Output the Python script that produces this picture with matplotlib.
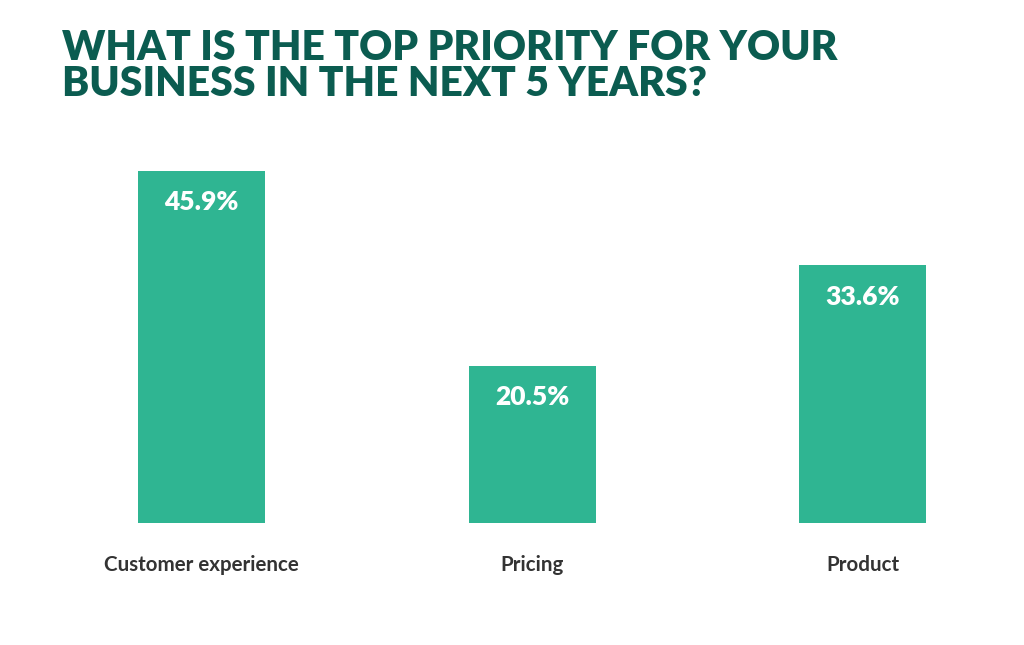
import matplotlib.pyplot as plt

categories = ['Customer experience', 'Pricing', 'Product']
values = [45.9, 20.5, 33.6]
value_labels = ['45.9%', '20.5%', '33.6%']

bar_color = '#2fb592'
title_color = '#0b5c50'

fig = plt.figure(figsize=(10.24, 6.45), dpi=100)
ax = fig.add_axes([69.3 / 1024, 1 - 523 / 645, 925.4 / 1024, 352 / 645])

x = range(len(categories))
bars = ax.bar(x, values, width=127 / 330.5, color=bar_color)
ax.set_xlim(-0.4, 2.4)
ax.set_ylim(0, max(values))
ax.axis('off')

for b, lab in zip(bars, value_labels):
    ax.annotate(lab, (b.get_x() + b.get_width() / 2, b.get_height()),
                xytext=(0, -14), textcoords='offset points',
                ha='center', va='top', color='white',
                fontsize=19, fontweight='heavy', family='Lato')

for i, c in enumerate(categories):
    ax.annotate(c, (i, 0), xytext=(0, -30), textcoords='offset points',
                ha='center', va='center', color='#333333',
                fontsize=14.8, fontweight='bold', family='Lato')

fig.text(62 / 1024, 1 - 29 / 645, 'WHAT IS THE TOP PRIORITY FOR YOUR\nBUSINESS IN THE NEXT 5 YEARS?',
         ha='left', va='top', color=title_color, fontsize=29.3,
         fontweight='heavy', family='Lato', linespacing=0.95)

fig.savefig('out.png', dpi=100, facecolor='white')
